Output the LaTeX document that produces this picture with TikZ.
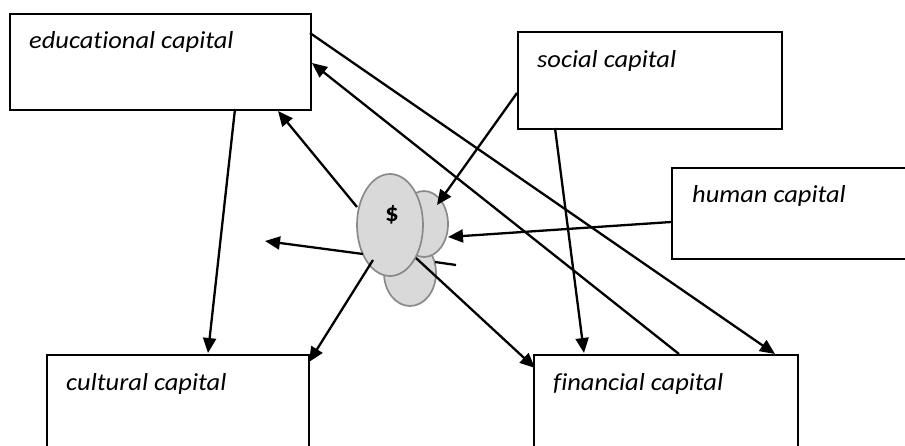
\documentclass[tikz,border=0pt]{standalone}
\usepackage{fontspec}
\setmainfont{Carlito}[Ligatures=NoCommon,FakeStretch=1.08]
\usetikzlibrary{shapes.geometric,arrows.meta}
\definecolor{blobfill}{HTML}{D9D9D9}
\definecolor{blobline}{HTML}{8A8A8A}
\begin{document}
\begin{tikzpicture}[x=1pt,y=-1pt,
  box/.style={draw,line width=2pt,anchor=north west,inner sep=0pt},
  lbl/.style={anchor=base west,font=\fontsize{24.5}{28}\selectfont\itshape,inner sep=0pt},
  blob/.style={ellipse,draw=blobline,fill=blobfill,line width=1.7pt,inner sep=0pt},
  conn/.style={line width=2.3pt},
  arr/.style={conn,-{Triangle[length=15pt,width=13pt]}}]
\useasboundingbox (0,0) rectangle (905,445);
\clip (0,0) rectangle (905,445);
% boxes
\node[box,minimum width=301pt,minimum height=96pt] (edu) at (9,13) {};
\node[box,minimum width=264pt,minimum height=97pt] (soc) at (517,31) {};
\node[box,minimum width=300pt,minimum height=91pt] (hum) at (671,167) {};
\node[box,minimum width=262pt,minimum height=150pt] (cul) at (46,354) {};
\node[box,minimum width=264pt,minimum height=150pt] (fin) at (533,354) {};
% labels
\node[lbl] (tedu) at (29,48) {educational capital};
\node[lbl] (tsoc) at (537,67) {social capital};
\node[lbl] (thum) at (692,202) {human capital};
\node[lbl] (tcul) at (66,390) {cultural capital};
\node[lbl] (tfin) at (553,390) {financial capital};
% cluster
\node[blob,minimum width=52pt,minimum height=66pt] (lo) at (410,273) {};
\node[blob,minimum width=48pt,minimum height=66pt] (ur) at (424,224) {};
\node[blob,minimum width=66pt,minimum height=102pt] (mn) at (390,225) {};
\node[font=\fontsize{25}{27}\selectfont\bfseries,inner sep=0pt] (dol) at (392,215) {\$};
% connector end points
\coordinate (eduB) at (235,109);
\coordinate (culT) at (208,353);
\coordinate (mnL) at (357,207);
\coordinate (eduB2) at (278,111);
\coordinate (mnL2) at (363,254);
\coordinate (free) at (265,241);
\coordinate (mnB) at (373,260);
\coordinate (culTR) at (309,362);
\coordinate (loR) at (416,258);
\coordinate (finL) at (535,368);
\coordinate (socB) at (555,128);
\coordinate (finT1) at (584,353);
\coordinate (finT2) at (679,354);
\coordinate (eduR1) at (312,63);
\coordinate (eduR2) at (310,33);
\coordinate (finT3) at (775,354);
\coordinate (socL) at (517,93);
\coordinate (urT) at (437,205);
\coordinate (humL) at (671,222);
\coordinate (urR) at (448,237);
\coordinate (stubA) at (435,262);
\coordinate (stubB) at (456,265);
% connectors
\draw[arr] (eduB) -- (culT);
\draw[arr] (mnL) -- (eduB2);
\draw[arr] (mnL2) -- (free);
\draw[arr] (mnB) -- (culTR);
\draw[arr] (loR) -- (finL);
\draw[arr] (socB) -- (finT1);
\draw[arr] (finT2) -- (eduR1);
\draw[arr] (eduR2) -- (finT3);
\draw[arr] (socL) -- (urT);
\draw[arr] (humL) -- (urR);
\draw[conn] (stubA) -- (stubB);
\end{tikzpicture}
\end{document}
